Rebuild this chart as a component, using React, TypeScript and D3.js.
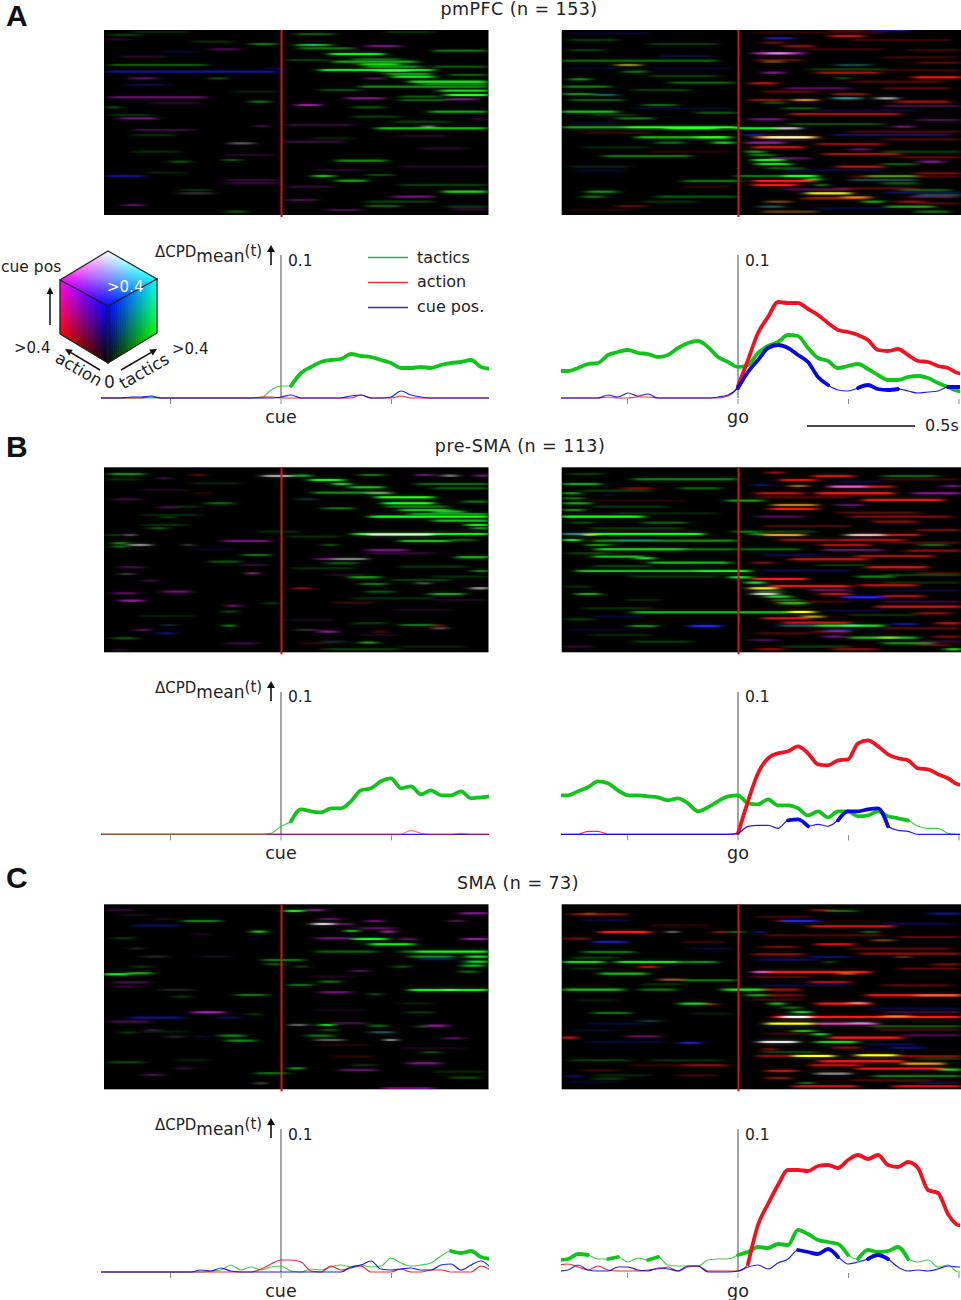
import React from "react";
import * as d3 from "d3";

// ---------- traces: ΔCPD sampled every 45 ms, 143 units = 0.1 ----------
const cueTimes = d3.range(40).map((i) => (i - 18) / 22.1);
const goTimes = d3.range(42).map((i) => (i - 18) / 22.1);

const aCueTactics = [0,0,0,0,0,0,0,0,0,0,0,0,0,0,0,0,0,8,12,12,25,31,36,38,39,44,42,41,38,35,30,30,31,30,33,35,36,38,31,29];
const aCueAction = [0,0,0,0,0,1,0,0,0,0,0,0,0,0,0,0,1,1,0,0,0,0,0,0,0,0,3,0,0,0,2,0,0,0,0,0,0,0,0,0];
const aCueCue = [0,0,0,1,1,2,0,0,0,0,0,0,0,0,0,0,0,0,1,3,0,0,0,0,0,2,3,0,0,1,7,3,1,0,0,0,0,0,0,0];
const aGoTactics = [27,27,30,34,35,43,46,48,45,44,41,43,50,55,57,51,41,36,31,33,45,52,56,63,62,50,40,37,30,32,34,29,23,18,18,21,22,20,15,11,7,6];
const aGoAction = [0,0,0,0,0,1,0,0,1,1,0,0,0,0,0,0,0,2,12,38,65,81,96,95,95,89,83,75,68,66,63,58,48,47,49,43,37,36,32,30,25,24];
const aGoCue = [0,0,0,0,0,3,1,5,2,4,0,0,0,0,0,0,1,3,10,26,38,50,53,50,43,36,21,13,8,7,10,13,9,8,9,7,5,6,7,11,11,11];

const bCueTactics = [0,0,0,0,0,0,0,0,0,0,0,0,0,0,0,0,0,1,8,13,25,23,22,26,26,33,44,46,53,56,46,48,40,44,39,39,43,36,37,38];
const bCueAction = [0,0,0,0,0,0,0,0,0,0,0,0,0,0,0,0,0,0,0,0,0,0,0,0,0,0,0,0,0,0,0,4,1,0,0,0,1,0,0,0];
const bCueCue = [0,0,0,0,0,0,0,0,0,0,0,0,0,0,0,0,0,0,0,0,0,0,0,0,0,0,0,0,0,0,0,0,0,0,0,0,0,0,0,0];
const bGoTactics = [39,39,43,47,53,51,44,39,39,38,37,34,36,31,23,27,33,38,39,31,30,35,29,29,26,19,23,17,23,23,18,19,23,18,16,14,8,6,6,1,0,0];
const bGoAction = [0,0,0,3,3,0,0,0,0,0,0,0,0,0,0,0,0,0,1,33,61,76,81,83,88,81,70,69,74,75,91,94,88,80,76,74,66,65,60,56,50,49];
const bGoCue = [0,0,0,0,0,0,0,0,0,0,0,0,0,0,0,0,0,0,1,8,9,9,6,14,15,8,10,8,14,23,23,25,26,8,4,3,0,0,0,0,0,0];

const cCueTactics = [0,0,0,0,0,0,0,0,0,0,0,1,2,7,2,5,2,5,6,1,0,3,2,5,7,5,7,5,6,14,9,6,7,9,16,21,19,21,15,13];
const cCueAction = [0,0,0,0,0,0,0,0,0,0,0,0,0,0,0,0,3,8,12,12,10,1,0,6,2,4,6,0,0,0,3,0,0,2,2,0,0,0,6,1];
const cCueCue = [0,0,0,0,0,0,0,0,0,0,2,1,4,1,0,0,0,0,0,0,0,0,0,0,0,5,7,11,3,2,3,4,2,2,7,8,2,7,11,4];
const cGoTactics = [12,13,18,17,13,13,15,10,14,12,15,7,6,6,6,12,13,13,17,20,25,24,28,27,42,38,32,30,28,17,13,22,20,21,25,13,10,12,5,7,0,0];
const cGoAction = [7,8,5,2,6,2,1,1,1,2,3,5,1,5,6,1,1,1,1,8,47,68,87,102,102,101,106,107,104,112,117,113,117,107,105,110,104,82,79,58,47,46];
const cGoCue = [1,2,7,2,1,1,5,5,2,1,4,3,1,6,6,0,0,0,1,5,7,3,9,13,22,20,18,23,15,8,10,13,17,13,5,1,2,1,3,6,5,5];

// sample index ranges in which a trace is significant (drawn heavy)
const aCueHeavy = { tactics: [[19, 39]], action: [], cue: [] };
const aGoHeavy = { tactics: [[0, 41]], action: [[18, 41]], cue: [[18, 27], [30, 34], [39, 41]] };
const bCueHeavy = { tactics: [[19, 39]], action: [], cue: [] };
const bGoHeavy = { tactics: [[0, 35]], action: [[18, 41]], cue: [[23, 25], [28, 33]] };
const cCueHeavy = { tactics: [[35, 39]], action: [], cue: [] };
const cGoHeavy = { tactics: [[0, 3], [5, 6], [9, 10], [18, 29], [30, 35]], action: [[19, 41]], cue: [[24, 28], [31, 33]] };

// ---------- rasters: [row, first bin, last bin, colour key, strength] ----------
const aCueStreaks = [
[75,590,690,"g",.6],[85,600,760,"g",.4],[102,690,850,"g",.9],[125,700,950,"g",.6],[133,780,900,"g",.8],[150,660,1000,"g",.85],[152,830,930,"g",1],[170,880,1000,"g",.9],[185,930,1160,"g",.9],[200,780,1160,"g",.5],[212,1020,1165,"g",.8],[225,1040,1165,"g",1],[92,1000,1160,"g",.4],[230,900,1020,"g",.3],[275,990,1160,"g",.6],[262,760,850,"g",.3],[325,830,1160,"g",.7],[320,970,1000,"w",.5],[422,710,860,"g",.5],[468,640,700,"g",.7],[482,710,800,"g",.6],[515,1030,1160,"g",.8],[530,880,1000,"m",.5],[558,800,900,"g",.3],[465,800,880,"g",.25],[42,590,700,"g",.3],
[118,760,900,"g",.35],[140,800,960,"g",.5],[162,860,990,"g",.5],[192,960,1160,"g",.4],
[78,800,900,"m",.5],[235,740,850,"m",.6],[238,1040,1130,"m",.5],[255,590,660,"m",.7],[298,1120,1150,"m",.3],[540,560,650,"m",.3],[175,800,850,"m",.4],[75,630,650,"b",.7],
[155,20,530,"b",.5],[135,30,320,"g",.3],[232,30,320,"m",.45],[88,330,420,"m",.3],[72,450,530,"g",.4],[175,90,170,"m",.4],[175,330,380,"g",.3],[295,60,170,"m",.5],[245,450,510,"g",.4],[370,390,460,"w",.3],[468,20,130,"b",.5],[555,70,130,"m",.4],[425,210,270,"g",.3],[318,470,500,"m",.4],[262,20,60,"g",.3],[330,100,280,"m",.25],[420,370,420,"g",.3],[575,380,440,"g",.3],[365,550,730,"m",.25],[195,80,200,"b",.25],[490,380,530,"m",.2],[510,240,330,"g",.15]];
const aCueFaint = [
[45,30,120,"g",.2],[58,20,90,"m",.15],[65,280,400,"g",.15],[95,180,300,"b",.15],[110,60,200,"m",.15],[120,560,680,"g",.2],[145,500,560,"b",.2],[140,1000,1160,"g",.3],[165,1050,1160,"g",.3],[210,660,780,"g",.25],[215,400,530,"g",.12],[240,900,1040,"g",.3],[250,150,300,"m",.15],[285,30,150,"g",.15],[290,760,900,"g",.2],[305,880,1050,"g",.2],[315,560,760,"m",.2],[345,100,220,"g",.15],[348,900,1040,"m",.15],[355,640,760,"g",.12],[385,960,1100,"m",.18],[395,100,240,"g",.15],[405,380,520,"m",.15],[440,900,1160,"m",.15],[450,650,800,"m",.15],[458,140,260,"g",.1],[480,380,530,"m",.2],[495,900,1160,"g",.2],[500,560,700,"m",.2],[520,240,340,"w",.15],[545,800,1000,"g",.2],[560,1040,1160,"g",.2],[570,680,780,"m",.3],[568,1060,1160,"m",.2],[36,100,260,"g",.12],[36,860,1000,"g",.15]];

const aGoStreaks = [
[122,35,500,"g",.35],[135,200,270,"y",.5],[155,220,290,"g",.4],[178,60,120,"g",.5],[188,360,550,"g",.35],[200,40,180,"g",.45],[222,40,130,"g",.5],[225,130,200,"c",.4],[240,60,220,"g",.3],[255,280,380,"g",.35],[275,35,200,"g",.7],[278,440,560,"g",.3],[295,200,310,"g",.4],[322,40,230,"g",.6],[322,230,560,"g",1],[325,350,500,"g",1],[325,560,680,"g",.9],[325,680,750,"w",.7],[352,260,530,"g",.7],[352,440,540,"g",.9],[368,490,550,"g",.8],[368,320,400,"g",.4],[408,160,420,"g",.4],[395,590,640,"g",.6],[420,610,700,"g",.9],[432,620,720,"g",.8],[468,700,800,"g",1],[478,770,810,"g",.8],[495,800,830,"g",.5],[520,770,900,"y",.9],[532,880,960,"o",.7],[545,940,1000,"g",.6],[560,1010,1150,"g",.6],[483,400,570,"g",.4],[515,110,200,"g",.5],[530,100,160,"g",.4],[530,320,560,"g",.3],[558,200,290,"r",.3],[468,560,700,"g",.4],[468,950,1100,"g",.5],[490,1000,1100,"g",.3],[575,640,800,"o",.35],[510,1050,1200,"g",.3],[575,1100,1198,"g",.4],
[405,600,670,"g",.4],[445,650,760,"g",.3],
[48,840,940,"r",.7],[55,650,730,"b",.7],[68,640,700,"r",.4],[78,700,790,"r",.5],[100,610,760,"m",.8],[100,650,720,"w",.4],[125,640,700,"o",.4],[135,860,960,"c",.3],[158,640,700,"m",.6],[158,800,990,"r",.6],[172,1090,1233,"r",.9],[175,870,890,"g",.5],[190,600,680,"r",.7],[205,710,900,"m",.35],[222,850,950,"r",.5],[235,850,930,"c",.7],[235,980,1040,"w",.6],[240,730,800,"o",.8],[240,600,700,"r",.5],[245,1040,1200,"r",.6],[248,640,700,"g",.3],[282,720,1050,"r",.6],[265,700,800,"g",.3],[298,600,700,"m",.5],[320,1030,1090,"m",.5],[345,850,1200,"b",.35],[345,580,640,"b",.5],[352,620,800,"o",.95],[352,650,780,"w",.7],[368,590,700,"m",.7],[382,610,760,"r",.8],[372,800,1000,"r",.5],[388,900,960,"m",.4],[402,820,1050,"r",.6],[415,660,780,"m",.4],[425,1110,1180,"m",.6],[440,860,1000,"r",.7],[432,1000,1100,"g",.3],[460,1100,1233,"r",.4],[483,610,790,"r",1],[495,610,740,"r",.9],[508,700,900,"m",.3],[518,1000,1233,"b",.3],[535,760,950,"r",.6],[545,650,720,"o",.4],[530,1080,1220,"m",.4],[560,630,700,"c",.4],[545,1040,1120,"r",.5],[300,1100,1233,"m",.3],[128,1100,1233,"r",.3],[480,900,1100,"c",.3],[205,1000,1200,"r",.3],[31,960,1080,"b",.5],[31,840,940,"r",.3]];
const aGoFaint = [
[40,60,300,"b",.15],[60,60,200,"g",.2],[72,300,500,"g",.2],[90,60,160,"g",.2],[108,330,480,"b",.18],[145,50,200,"b",.15],[145,300,540,"b",.12],[168,300,500,"g",.2],[210,250,420,"g",.2],[265,250,540,"b",.15],[285,120,260,"g",.15],[310,60,200,"b",.15],[338,100,300,"r",.18],[382,100,300,"g",.12],[395,300,540,"r",.12],[440,60,240,"c",.12],[452,80,220,"b",.15],[500,400,540,"r",.15],[545,280,440,"g",.15],[570,60,250,"r",.12],
[60,900,1200,"r",.2],[88,760,1000,"r",.2],[112,1000,1220,"r",.2],[120,620,760,"r",.3],[148,780,1000,"g",.2],[185,900,1180,"r",.25],[215,640,800,"r",.3],[258,1000,1233,"m",.25],[272,800,1100,"b",.18],[312,720,1000,"g",.25],[335,900,1233,"r",.25],[358,1000,1233,"r",.25],[395,1000,1233,"g",.2],[412,1050,1233,"r",.3],[450,700,1000,"b",.2],[470,900,1233,"r",.25],[505,860,1100,"r",.3],[525,1100,1233,"g",.25],[550,1100,1233,"r",.25],[565,800,1000,"b",.25],[38,600,1000,"r",.15],[90,1080,1233,"r",.2],[150,1000,1233,"r",.18]];

const bCueStreaks = [
[42,30,130,"g",.5],[45,275,310,"r",.4],[48,490,580,"w",.6],[47,590,630,"g",.7],[45,780,850,"g",.4],[45,950,1000,"m",.5],[47,1030,1070,"w",.5],[47,1125,1165,"m",.6],[55,180,205,"m",.4],[60,630,730,"g",.9],[72,700,750,"g",.8],[82,750,850,"g",.7],[98,640,870,"g",.5],[100,800,870,"w",.3],[112,830,1000,"g",1],[118,590,650,"c",.2],[130,850,1000,"g",1],[145,670,760,"g",.4],[150,900,1050,"g",.7],[155,1000,1090,"g",.7],[170,810,1165,"g",1],[182,1000,1165,"g",.7],[195,1100,1165,"g",.9],[205,1120,1165,"g",.6],[222,760,1165,"g",.9],[224,800,1000,"w",.7],[243,900,1050,"g",.7],[240,1050,1130,"g",.3],[72,950,1165,"g",.35],[85,1000,1165,"g",.3],[125,1090,1165,"g",.4],[255,670,710,"g",.3],[270,800,920,"m",.5],[292,1070,1165,"g",.7],[297,650,800,"m",.5],[297,700,800,"g",.4],[310,680,770,"g",.3],[333,1120,1165,"g",.5],[352,750,840,"g",.6],[372,780,860,"g",.4],[395,800,880,"g",.3],[402,990,1090,"g",.6],[370,950,990,"w",.3],[385,1115,1165,"w",.6],[385,580,635,"r",.5],[495,900,1000,"g",.4],[497,1000,1030,"r",.4],[515,660,710,"m",.7],[515,830,850,"r",.5],[505,1000,1040,"w",.3],[548,780,830,"g",.6],[545,670,730,"c",.2],
[140,860,1040,"g",.4],[162,930,1165,"g",.5],
[118,40,120,"m",.25],[130,320,400,"g",.35],[142,180,230,"m",.35],[172,190,220,"g",.3],[205,150,200,"g",.3],[225,80,100,"w",.5],[225,20,60,"g",.2],[243,370,510,"m",.5],[250,40,80,"g",.55],[260,40,80,"g",.4],[255,90,150,"w",.5],[255,255,275,"w",.3],[285,430,510,"g",.4],[305,330,420,"g",.3],[322,60,130,"m",.3],[340,445,470,"p",.7],[342,60,100,"w",.2],[362,130,170,"m",.3],[395,190,270,"m",.5],[400,40,110,"m",.4],[422,60,130,"m",.7],[437,380,420,"m",.5],[455,370,410,"g",.3],[497,375,400,"g",.7],[510,110,150,"m",.4],[520,170,225,"b",.4],[535,40,110,"g",.3],[550,380,470,"m",.25],[495,190,225,"c",.2],[570,40,80,"m",.2],[430,490,540,"g",.2]];
const bCueFaint = [
[58,20,120,"g",.15],[70,280,420,"g",.12],[90,130,260,"m",.12],[100,280,330,"r",.15],[140,230,300,"g",.15],[165,120,300,"g",.12],[195,130,260,"g",.15],[215,480,600,"g",.15],[230,560,720,"g",.15],[268,280,400,"b",.12],[315,420,500,"m",.2],[325,580,760,"g",.15],[345,680,800,"m",.12],[360,880,1050,"g",.2],[350,1000,1165,"g",.15],[320,900,1100,"g",.18],[415,760,1000,"g",.15],[420,1000,1160,"m",.12],[428,700,820,"r",.2],[450,880,1050,"m",.12],[468,120,280,"g",.1],[480,560,700,"m",.12],[490,760,860,"g",.2],[510,590,650,"w",.15],[525,780,900,"m",.12],[550,600,700,"r",.15],[560,900,1100,"g",.1],[568,670,900,"g",.2],[280,800,1000,"m",.2]];

const bGoStreaks = [
[58,250,560,"g",.45],[72,40,150,"g",.6],[85,220,310,"r",.4],[85,390,510,"g",.35],[100,40,90,"g",.6],[105,170,190,"b",.3],[115,40,100,"g",.4],[122,530,640,"g",.55],[130,40,120,"g",.6],[150,40,100,"g",.5],[170,35,280,"g",1],[188,280,410,"g",.35],[222,35,120,"c",.6],[222,120,460,"g",.95],[225,100,140,"y",.6],[240,40,90,"g",.9],[242,130,560,"g",.5],[255,110,180,"g",.5],[268,140,400,"g",.8],[268,400,560,"g",.4],[268,570,750,"g",.35],[290,130,280,"g",.7],[295,260,310,"g",.9],[308,300,540,"g",.7],[333,80,440,"g",.7],[333,440,600,"g",.9],[352,540,600,"g",.9],[368,590,640,"g",.9],[385,600,680,"y",.9],[402,80,150,"g",.6],[402,610,680,"w",.8],[410,650,720,"g",.8],[430,690,770,"g",.7],[457,250,720,"g",.7],[456,720,790,"y",1],[470,760,820,"y",.6],[498,240,320,"g",.5],[498,420,510,"b",1],[497,800,1000,"g",.85],[497,690,800,"c",.4],[497,880,930,"c",.5],[512,830,900,"b",.8],[533,900,1100,"g",.7],[533,990,1040,"y",.5],[550,1000,1150,"g",.5],[568,1190,1233,"g",.9],[478,50,130,"g",.2],[215,550,630,"g",.4],[222,600,640,"g",.5],[188,60,130,"g",.25],
[395,620,700,"g",.3],[420,670,750,"g",.3],
[38,650,700,"r",.6],[48,790,910,"r",.8],[48,1000,1160,"g",.35],[60,690,800,"r",.8],[75,610,660,"b",.4],[78,720,770,"o",.6],[80,840,950,"p",1],[80,950,1030,"r",.8],[78,1180,1233,"m",.5],[100,620,760,"r",.7],[100,800,1030,"r",1],[100,1090,1233,"m",.6],[120,940,1180,"r",.9],[135,670,800,"o",.7],[135,860,940,"m",.4],[147,660,800,"r",.9],[170,620,760,"m",.35],[170,900,1200,"r",.45],[185,970,1100,"r",.5],[225,640,760,"o",.9],[225,890,1000,"w",.6],[225,900,1110,"r",.7],[240,690,850,"r",.5],[240,860,1060,"r",.6],[255,810,960,"r",.6],[255,1110,1190,"g",.35],[270,820,1000,"m",.4],[272,1070,1233,"r",.5],[288,920,1150,"r",.6],[298,720,950,"r",.75],[308,610,670,"r",.5],[322,950,1130,"r",.85],[340,1100,1233,"r",.25],[350,920,1030,"g",.45],[357,610,770,"r",1],[378,660,900,"r",.85],[376,930,1100,"r",.7],[390,780,900,"m",.4],[402,810,900,"r",.7],[412,880,1000,"b",1],[408,1000,1120,"r",.6],[440,980,1233,"r",.8],[475,640,780,"r",.8],[488,700,900,"r",.7],[492,1030,1100,"b",.5],[490,1160,1233,"r",.7],[515,790,900,"r",.4],[530,820,880,"m",.5],[530,1150,1233,"r",.4],[540,600,680,"m",.3],[555,1100,1200,"r",.3],[568,620,700,"r",.5],[568,850,980,"r",.5],[460,1100,1200,"r",.5],[210,1100,1233,"r",.4]];
const bGoFaint = [
[42,60,160,"g",.2],[92,100,300,"g",.2],[122,120,400,"r",.12],[140,130,350,"g",.18],[160,200,500,"g",.12],[205,120,400,"g",.18],[240,200,320,"b",.3],[280,50,180,"g",.2],[318,130,300,"g",.2],[350,240,500,"g",.18],[380,40,120,"g",.15],[420,230,330,"g",.12],[445,100,300,"g",.15],[470,130,280,"b",.18],[510,60,240,"b",.12],[525,120,300,"g",.12],[545,250,420,"g",.2],[560,40,130,"m",.2],
[58,1000,1233,"r",.2],[65,860,1000,"b",.2],[112,620,900,"r",.25],[158,860,1100,"r",.3],[198,640,900,"r",.25],[215,640,800,"g",.2],[248,1000,1233,"r",.25],[285,640,800,"b",.25],[315,800,950,"g",.18],[332,640,900,"b",.25],[345,1000,1233,"g",.2],[368,1000,1233,"g",.15],[392,1000,1233,"b",.2],[425,660,900,"r",.2],[425,1000,1233,"m",.2],[452,820,1000,"b",.2],[465,900,1100,"g",.15],[505,1000,1233,"r",.3],[520,620,780,"r",.25],[545,1100,1233,"m",.2],[560,700,900,"g",.2]];

const cCueStreaks = [
[48,555,610,"g",.9],[45,620,670,"m",.6],[45,20,100,"m",.2],[55,1080,1165,"m",.6],[78,250,360,"g",.45],[72,660,720,"m",.4],[78,800,850,"m",.5],[78,1050,1090,"m",.4],[87,640,700,"w",.8],[87,710,760,"m",.4],[92,100,240,"b",.35],[110,458,495,"g",.9],[100,780,880,"m",.4],[110,850,880,"p",.7],[108,740,770,"g",.9],[130,650,750,"m",.5],[132,760,860,"g",.95],[148,810,940,"g",.9],[132,1090,1165,"m",.7],[132,900,950,"m",.4],[170,950,1165,"g",.95],[170,650,830,"g",.35],[170,900,950,"g",.4],[185,930,1060,"g",.5],[185,1100,1165,"g",.85],[192,960,1060,"b",.4],[200,1100,1165,"g",.8],[212,1090,1150,"g",.7],[215,880,930,"g",.3],[230,1080,1130,"g",.4],[228,750,810,"m",.3],[238,12,85,"g",.9],[235,85,155,"g",.65],[195,490,610,"g",.4],[208,500,550,"g",.3],[215,590,620,"g",.3],[260,660,720,"g",.4],[270,565,635,"g",.4],[262,40,150,"m",.3],[275,40,110,"m",.2],[292,660,750,"m",.5],[285,930,1165,"g",.9],[285,1040,1060,"w",.3],[298,810,840,"g",.35],[300,410,500,"g",.4],[305,220,270,"g",.2],[352,280,370,"m",.8],[352,920,1000,"g",.2],[368,90,250,"b",.45],[368,360,420,"b",.3],[380,30,150,"m",.3],[358,445,480,"g",.2],[390,570,620,"w",.35],[390,660,700,"g",.9],[385,700,800,"m",.3],[392,810,860,"g",.4],[392,980,1040,"m",.7],[395,950,980,"g",.3],[405,670,710,"g",.3],[413,60,110,"g",.2],[405,140,180,"m",.3],[412,810,880,"c",.4],[422,360,430,"g",.5],[437,380,465,"g",.5],[422,620,700,"g",.4],[425,295,315,"b",.4],[435,650,730,"w",.3],[435,860,885,"w",.7],[430,1030,1090,"m",.4],[472,970,1020,"g",.3],[505,925,1020,"m",.55],[502,30,130,"g",.25],[520,570,610,"g",.6],[520,230,275,"m",.25],[525,720,830,"m",.4],[535,470,560,"g",.4],[540,130,190,"m",.3],[548,1050,1140,"g",.25],[565,470,495,"w",.3],[580,850,1000,"m",.5]];
const cCueFaint = [
[60,60,140,"m",.12],[72,160,220,"m",.12],[118,280,330,"m",.1],[130,40,100,"g",.2],[160,90,130,"w",.12],[185,130,200,"w",.12],[185,300,390,"m",.12],[215,100,150,"g",.2],[245,640,760,"m",.12],[285,180,280,"w",.1],[325,900,1000,"g",.1],[345,640,800,"m",.08],[410,130,260,"g",.1],[425,200,250,"w",.12],[450,650,800,"r",.12],[460,900,1100,"m",.1],[485,700,820,"r",.15],[495,230,330,"g",.1],[510,760,830,"g",.15],[530,1000,1160,"g",.12]];

const cGoStreaks = [
[42,60,230,"r",.5],[40,110,130,"o",.5],[32,830,920,"g",.35],[40,1140,1233,"b",.5],[62,700,800,"b",.9],[62,680,700,"r",.5],[78,780,1030,"r",.8],[95,150,300,"r",1],[95,360,375,"w",.8],[95,490,530,"r",.5],[95,540,580,"g",.4],[95,620,640,"b",.7],[95,940,980,"g",.4],[115,40,120,"r",.4],[125,130,230,"b",.7],[120,970,1030,"o",.4],[132,800,910,"r",.8],[140,640,740,"r",.4],[155,100,250,"g",.4],[162,610,760,"r",.5],[160,930,1233,"r",.5],[170,780,900,"b",.35],[172,70,200,"g",.2],[185,40,160,"g",.8],[185,200,390,"g",.85],[185,400,500,"g",.5],[185,830,850,"g",.4],[192,1150,1233,"r",.4],[200,270,320,"r",.7],[215,610,660,"p",.9],[215,660,960,"r",.95],[220,150,290,"g",.7],[220,860,920,"o",.5],[238,330,400,"o",.5],[240,400,560,"g",.4],[245,780,900,"r",.6],[268,40,220,"g",.7],[268,270,380,"g",.4],[268,520,640,"g",.9],[268,640,750,"r",.6],[285,590,650,"g",.6],[285,650,760,"r",.4],[285,950,1233,"r",.95],[285,1100,1233,"o",.5],[310,390,470,"g",.8],[312,470,500,"r",.6],[310,660,700,"g",.8],[310,800,960,"r",1],[308,900,950,"w",.4],[322,700,750,"g",.4],[338,130,240,"g",.4],[335,730,780,"g",.8],[350,670,1233,"r",1],[350,700,780,"w",1],[348,1000,1080,"o",.6],[362,270,330,"c",.25],[370,800,980,"p",.8],[370,650,790,"y",1],[368,900,960,"c",.4],[378,960,1233,"g",.3],[392,730,790,"g",.7],[402,790,830,"g",.9],[412,840,1055,"r",1],[412,35,80,"r",.8],[408,230,330,"m",.4],[428,390,450,"b",.8],[425,630,740,"w",.9],[425,800,920,"g",.8],[405,1060,1233,"m",.3],[442,850,930,"r",.5],[442,1020,1120,"b",.4],[447,640,680,"r",.5],[467,620,720,"r",.5],[467,730,850,"y",1],[465,920,1040,"y",1],[468,1050,1233,"r",.5],[483,810,1060,"r",1],[490,1060,1180,"o",.9],[495,780,930,"r",.7],[505,920,1180,"r",.9],[508,1170,1233,"g",.8],[495,400,530,"r",.5],[512,650,740,"r",.7],[520,800,900,"w",.5],[527,970,1233,"g",.4],[528,40,100,"b",.3],[533,650,720,"r",.5],[535,130,220,"g",.2],[558,730,920,"r",.8],[558,1030,1233,"r",.8],[548,750,790,"g",.4],[480,60,240,"g",.2],[30,780,850,"r",.4],[110,1050,1233,"r",.3],[170,1040,1080,"o",.3],[510,100,200,"r",.2]];
const cGoFaint = [
[60,100,240,"b",.2],[75,300,480,"r",.15],[125,400,520,"r",.2],[145,420,540,"b",.2],[205,70,160,"g",.15],[252,280,400,"g",.15],[300,80,200,"g",.1],[340,420,540,"g",.1],[370,120,280,"b",.18],[390,60,200,"b",.15],[425,120,340,"b",.2],[480,300,520,"g",.15],[495,240,400,"r",.15],[525,140,300,"g",.12],[525,380,500,"r",.2],[545,60,200,"b",.12],
[50,620,780,"r",.2],[70,1000,1200,"b",.25],[105,640,1000,"r",.25],[145,900,1200,"r",.3],[178,620,800,"b",.3],[205,1050,1233,"r",.3],[230,600,780,"r",.25],[255,640,900,"b",.2],[255,1000,1200,"r",.3],[298,600,760,"r",.2],[325,960,1233,"b",.2],[335,1000,1233,"m",.2],[388,980,1233,"r",.25],[400,650,760,"r",.2],[432,950,1100,"b",.25],[455,640,800,"g",.2],[475,1100,1233,"g",.2],[540,900,1150,"r",.25],[548,1100,1233,"b",.2]];

const streakColours = { g: "#18e018", r: "#ee1212", b: "#1c1ce6", m: "#b01cc0", w: "#f4eeee", y: "#e8e020", c: "#30a8b0", o: "#f08a18", p: "#f040b8" };
const traceColours = { tactics: "#10c41c", action: "#f01220", cue: "#0808dc" };
const legendRows = [["tactics", "#22b350"], ["action", "#f0303a"], ["cue pos.", "#2a2ad0"]];
const regionTitles = ["pmPFC (n = 153)", "pre-SMA (n = 113)", "SMA (n = 73)"];
const regionLetters = ["A", "B", "C"];
const cueTickSeconds = [-0.5, 0, 0.5];
const goTickSeconds = [-0.5, 0, 0.5, 1];

const FONT = "'DejaVu Sans', sans-serif";
const PX_PER_S = 221;

const rasterGeometry = [
  { top: 30, cueRow0: 30, goRow0: 30, cueRowSpan: 555, goRowSpan: 555, base: 398, axisTop: 255 },
  { top: 467.3, cueRow0: 22, goRow0: 22, cueRowSpan: 555, goRowSpan: 555, base: 834.3, axisTop: 692 },
  { top: 904.3, cueRow0: 28, goRow0: 12, cueRowSpan: 555, goRowSpan: 555, base: 1272, axisTop: 1129 },
];

function Raster({ id, streaks, faint, x0, x1, bin0, top, row0, rowSpan, eventX }: any) {
  const sx = d3.scaleLinear().domain([bin0, bin0 + (x1 - x0) * 3]).range([x0, x1]);
  const sy = d3.scaleLinear().domain([row0, row0 + rowSpan]).range([top, top + rowSpan / 3]);
  const bars = (rows: any[], tag: string) => rows.map((s: any, i: number) => (
    <rect key={tag + i} x={sx(s[1])} width={sx(s[2]) - sx(s[1])} y={sy(s[0]) - 1.1} height={2.2}
      fill={streakColours[s[3] as keyof typeof streakColours]} opacity={Math.min(1, s[4])}
      style={{ mixBlendMode: "screen" }} />
  ));
  return (
    <g>
      <clipPath id={id}><rect x={x0} y={top} width={x1 - x0} height={rowSpan / 3} /></clipPath>
      <rect x={x0} y={top} width={x1 - x0} height={rowSpan / 3} fill="#000" />
      <g clipPath={`url(#${id})`}>
        <g filter="url(#smear)" style={{ isolation: "isolate" }}>
          {bars(faint, "f")}
          {bars(streaks, "s")}
        </g>
      </g>
      <line x1={eventX} x2={eventX} y1={top} y2={top + rowSpan / 3 + 2} stroke="#d01420" strokeWidth={2} />
    </g>
  );
}

function Traces({ id, times, tactics, action, cue, heavy, zeroX, x0, x1, base, axisTop, ticks, label, order, actionThin }: any) {
  const sx = d3.scaleLinear().domain([0, 1]).range([zeroX, zeroX + PX_PER_S]);
  const sy = d3.scaleLinear().domain([0, 143]).range([base, base - 143]);
  const byKey: any = { tactics, action, cue };
  const line = d3.line<number>()
    .x((_, i) => sx(times[i]))
    .y((d) => sy(d))
    .curve(d3.curveMonotoneX);
  const part = (vals: number[], a: number, b: number) => {
    const l = d3.line<number>().x((_, i) => sx(times[a + i])).y((d) => sy(d)).curve(d3.curveMonotoneX);
    return l(vals.slice(a, b + 1)) as string;
  };
  return (
    <g>
      <clipPath id={id}><rect x={x0} y={axisTop - 5} width={x1 - x0} height={base - axisTop + 15} /></clipPath>
      <line x1={zeroX} x2={zeroX} y1={axisTop} y2={base} stroke="#969696" strokeWidth={1.7} />
      {ticks.map((t: number) => (
        <line key={t} x1={sx(t)} x2={sx(t)} y1={base + 1} y2={base + 6} stroke="#8a8a8a" strokeWidth={1} />
      ))}
      <text x={zeroX + 7} y={sy(143) + 10.5} fontFamily={FONT} fontSize={15.5} fill="#222">0.1</text>
      <g clipPath={`url(#${id})`}>
        {order.map((k: string) => (
          <g key={k} stroke={traceColours[k as keyof typeof traceColours]} fill="none" strokeLinejoin="round" strokeLinecap="round">
            <path d={line(byKey[k]) as string} strokeWidth={1.2} opacity={k === "action" && actionThin ? actionThin : k === "tactics" ? 0.8 : 0.9} />
            {heavy[k].map((r: number[]) => (
              <path key={r[0]} d={part(byKey[k], r[0], r[1])} strokeWidth={3.8} />
            ))}
          </g>
        ))}
      </g>
      <text x={zeroX} y={base + 25} textAnchor="middle" fontFamily={FONT} fontSize={17.5} fill="#222">{label}</text>
    </g>
  );
}

function AxisCaption({ y }: { y: number }) {
  return (
    <g fontFamily={FONT} fill="#222">
      <text x={155} y={y} fontSize={15}>
        <tspan>ΔCPD</tspan>
        <tspan dy={5} fontSize={17}>mean</tspan>
        <tspan dy={-6} fontSize={15}>(t)</tspan>
      </text>
      <line x1={271} x2={271} y1={y + 8} y2={y - 6} stroke="#111" strokeWidth={1.6} />
      <path d={`M267,${y - 5}L271,${y - 12}L275,${y - 5}Z`} fill="#111" />
    </g>
  );
}

const cubeLeftTop = "#ff00ff", cubeWhite = "#ffffff", cubeCyan = "#00ffff", cubeBlue = "#0000ff", cubeRed = "#ff0000", cubeBlack = "#000000", cubeGreen = "#00ff00";

function CubeFace({ corners, colours }: { corners: number[][]; colours: string[] }) {
  const n = 26;
  const mix = (a: string, b: string, t: number) => d3.interpolateRgb(a, b)(t);
  const pt = (u: number, v: number) => {
    const [a, b, c, d] = corners;
    const top = [a[0] + (b[0] - a[0]) * u, a[1] + (b[1] - a[1]) * u];
    const bot = [d[0] + (c[0] - d[0]) * u, d[1] + (c[1] - d[1]) * u];
    return [top[0] + (bot[0] - top[0]) * v, top[1] + (bot[1] - top[1]) * v];
  };
  const cells: React.ReactNode[] = [];
  for (let i = 0; i < n; i++) for (let j = 0; j < n; j++) {
    const u0 = i / n, u1 = (i + 1) / n, v0 = j / n, v1 = (j + 1) / n;
    const um = (i + 0.5) / n, vm = (j + 0.5) / n;
    const c = mix(mix(colours[0], colours[1], um), mix(colours[3], colours[2], um), vm);
    const p = [pt(u0, v0), pt(u1, v0), pt(u1, v1), pt(u0, v1)];
    cells.push(<polygon key={`${i}-${j}`} points={p.map((q) => q.join(",")).join(" ")} fill={c} stroke={c} strokeWidth={0.6} />);
  }
  return <g>{cells}<polygon points={corners.map((q) => q.join(",")).join(" ")} fill="none" stroke="#222" strokeWidth={1.2} /></g>;
}

function Arrow({ x1, y1, x2, y2 }: any) {
  const a = Math.atan2(y2 - y1, x2 - x1);
  const h = 7, w = 3.4;
  const bx = x2 - h * Math.cos(a), by = y2 - h * Math.sin(a);
  const px = -Math.sin(a) * w, py = Math.cos(a) * w;
  return (
    <g>
      <line x1={x1} y1={y1} x2={bx} y2={by} stroke="#111" strokeWidth={1.5} />
      <polygon points={`${x2},${y2} ${bx + px},${by + py} ${bx - px},${by - py}`} fill="#111" />
    </g>
  );
}

function ColourKey() {
  const L = [60, 280], T = [108, 251], R = [157, 279], C = [108, 306], BL = [60, 334], BB = [108, 363], BR = [157, 333];
  return (
    <g fontFamily={FONT} fill="#222">
      <CubeFace corners={[L, T, R, C]} colours={[cubeLeftTop, cubeWhite, cubeCyan, cubeBlue]} />
      <CubeFace corners={[L, C, BB, BL]} colours={[cubeLeftTop, cubeBlue, cubeBlack, cubeRed]} />
      <CubeFace corners={[C, R, BR, BB]} colours={[cubeBlue, cubeCyan, cubeGreen, cubeBlack]} />
      <text x={1} y={272} fontSize={15.5}>cue pos</text>
      <text x={107} y={292} fontSize={15} fill="#fff">&gt;0.4</text>
      <text x={14} y={353} fontSize={15}>&gt;0.4</text>
      <text x={172} y={354} fontSize={15}>&gt;0.4</text>
      <text x={104} y={388} fontSize={17}>0</text>
      <text transform="translate(76,374) rotate(30)" textAnchor="middle" fontSize={16.5}>action</text>
      <text transform="translate(147,376) rotate(-30)" textAnchor="middle" fontSize={16.5}>tactics</text>
      <Arrow x1={50} y1={325} x2={50} y2={287} />
      <Arrow x1={100} y1={370} x2={65} y2={349} />
      <Arrow x1={121} y1={370} x2={157} y2={349} />
    </g>
  );
}

export default function App() {
  const cueSets = [
    [aCueStreaks, aGoStreaks, aCueTactics, aCueAction, aCueCue, aGoTactics, aGoAction, aGoCue, aCueHeavy, aGoHeavy, aCueFaint, aGoFaint],
    [bCueStreaks, bGoStreaks, bCueTactics, bCueAction, bCueCue, bGoTactics, bGoAction, bGoCue, bCueHeavy, bGoHeavy, bCueFaint, bGoFaint],
    [cCueStreaks, cGoStreaks, cCueTactics, cCueAction, cCueCue, cGoTactics, cGoAction, cGoCue, cCueHeavy, cGoHeavy, cCueFaint, cGoFaint],
  ] as any[];
  const topY = [15, 452, 889];
  const letterY = [26, 457, 888];
  const titleX = [519, 520, 518];
  const captionY = [257, 693, 1130];
  return (
    <svg width={961} height={1300} style={{ position: "absolute", left: 0, top: 0, display: "block", background: "#fff" }}>
      <defs>
        <filter id="smear" x="-5%" y="-5%" width="110%" height="110%" colorInterpolationFilters="sRGB">
          <feGaussianBlur in="SourceGraphic" stdDeviation="5 0.7" result="core" />
          <feGaussianBlur in="SourceGraphic" stdDeviation="8 2.2" result="halo" />
          <feComponentTransfer in="core" result="coreLit">
            <feFuncR type="linear" slope="1.15" />
            <feFuncG type="linear" slope="1.15" />
            <feFuncB type="linear" slope="1.15" />
          </feComponentTransfer>
          <feComponentTransfer in="halo" result="haloLit">
            <feFuncR type="linear" slope="0.45" />
            <feFuncG type="linear" slope="0.45" />
            <feFuncB type="linear" slope="0.45" />
          </feComponentTransfer>
          <feBlend in="coreLit" in2="haloLit" mode="screen" />
        </filter>
      </defs>
      {cueSets.map((s, r) => {
        const g = rasterGeometry[r];
        return (
          <g key={r}>
            <text x={6} y={letterY[r]} fontFamily="'Liberation Sans', sans-serif" fontWeight="bold" fontSize={30} fill="#111">{regionLetters[r]}</text>
            <text x={titleX[r]} y={topY[r]} textAnchor="middle" fontFamily={FONT} fontSize={17.5} letterSpacing={0.45} fill="#222">{regionTitles[r]}</text>
            <Raster id={`rc${r}`} streaks={s[0]} faint={s[10]} x0={104} x1={488.5} bin0={12} top={g.top} row0={g.cueRow0} rowSpan={g.cueRowSpan} eventX={281.5} />
            <Raster id={`rg${r}`} streaks={s[1]} faint={s[11]} x0={561.7} x1={961} bin0={35} top={g.top} row0={g.goRow0} rowSpan={g.goRowSpan} eventX={738.5} />
            <AxisCaption y={captionY[r]} />
            <Traces id={`tc${r}`} times={cueTimes} tactics={s[2]} action={s[3]} cue={s[4]} heavy={s[8]} zeroX={281} x0={101} x1={489} base={g.base} axisTop={g.axisTop} ticks={cueTickSeconds} label="cue" order={r === 1 ? ["cue", "tactics", "action"] : ["tactics", "action", "cue"]} actionThin={r === 1 ? 0.55 : undefined} />
            <Traces id={`tg${r}`} times={goTimes} tactics={s[5]} action={s[6]} cue={s[7]} heavy={s[9]} zeroX={738} x0={561} x1={960} base={g.base} axisTop={g.axisTop} ticks={goTickSeconds} label="go" order={["tactics", "action", "cue"]} />
          </g>
        );
      })}
      <ColourKey />
      <g fontFamily={FONT} fontSize={16} fill="#222">
        {legendRows.map((row, i) => (
          <g key={row[0]}>
            <line x1={368} x2={408} y1={257.5 + i * 25} y2={257.5 + i * 25} stroke={row[1]} strokeWidth={1.6} />
            <text x={417} y={262.5 + i * 24.5}>{row[0]}</text>
          </g>
        ))}
      </g>
      <line x1={807} x2={915} y1={426} y2={426} stroke="#111" strokeWidth={1.5} />
      <text x={925} y={431} fontFamily={FONT} fontSize={16} fill="#222">0.5s</text>
    </svg>
  );
}
